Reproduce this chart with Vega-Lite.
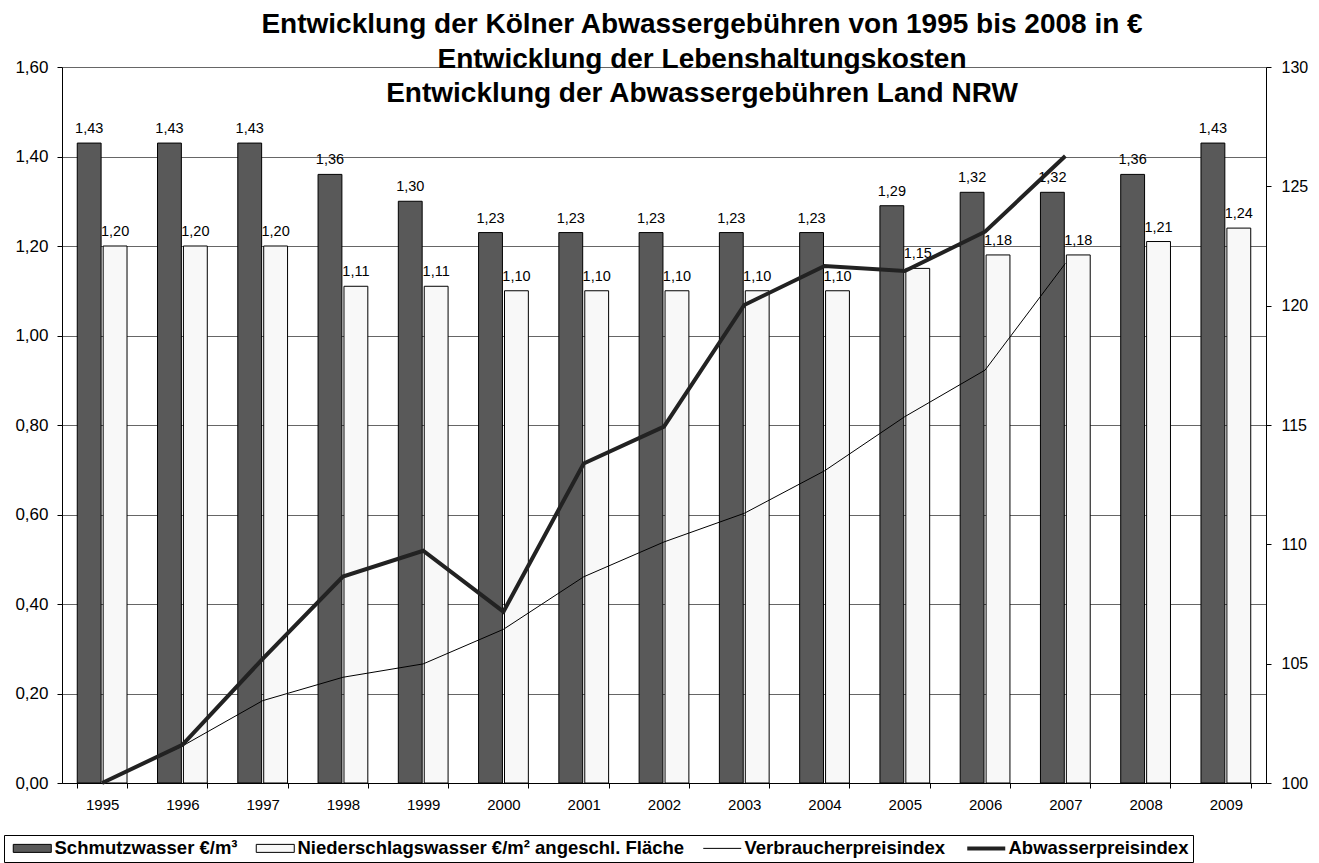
{
  "$schema": "https://vega.github.io/schema/vega-lite/v6.json",
  "autosize": {"type": "none"},
  "width": 1204,
  "height": 716,
  "padding": {"left": 62, "top": 67, "right": 53, "bottom": 80},
  "background": "white",
  "config": {
    "locale": {"number": {"decimal": ",", "thousands": ".", "grouping": [3], "currency": ["", " €"]}},
    "font": "Liberation Sans",
    "view": {"stroke": null},
    "axis": {"labelFont": "Liberation Sans", "labelColor": "#000", "domainColor": "#000", "tickColor": "#000", "tickSize": 5, "title": null},
    "legend": {
      "title": null, "orient": "none", "legendX": -58, "legendY": 768, "direction": "horizontal", "columns": 4,
      "strokeColor": "#000", "fillColor": "#fff", "padding": 4,
      "labelFont": "Liberation Sans", "labelFontWeight": "bold", "labelFontSize": 18.5, "labelColor": "#000", "labelLimit": 1000,
      "symbolSize": 64, "labelOffset": 28, "columnPadding": 13
    }
  },
  "title": {
    "text": ["Entwicklung der Kölner Abwassergebühren von 1995 bis 2008 in €", "Entwicklung der Lebenshaltungskosten", "Entwicklung der Abwassergebühren Land NRW"],
    "font": "Liberation Sans", "fontSize": 28, "fontWeight": "bold", "color": "#000",
    "anchor": "middle", "frame": "group", "dx": 38, "offset": -78, "lineHeight": 34.5, "baseline": "bottom"
  },
  "datasets": {
    "bars": [
      {"year": "1995", "series": "Schmutzwasser €/m³", "value": 1.43},
      {"year": "1996", "series": "Schmutzwasser €/m³", "value": 1.43},
      {"year": "1997", "series": "Schmutzwasser €/m³", "value": 1.43},
      {"year": "1998", "series": "Schmutzwasser €/m³", "value": 1.36},
      {"year": "1999", "series": "Schmutzwasser €/m³", "value": 1.30},
      {"year": "2000", "series": "Schmutzwasser €/m³", "value": 1.23},
      {"year": "2001", "series": "Schmutzwasser €/m³", "value": 1.23},
      {"year": "2002", "series": "Schmutzwasser €/m³", "value": 1.23},
      {"year": "2003", "series": "Schmutzwasser €/m³", "value": 1.23},
      {"year": "2004", "series": "Schmutzwasser €/m³", "value": 1.23},
      {"year": "2005", "series": "Schmutzwasser €/m³", "value": 1.29},
      {"year": "2006", "series": "Schmutzwasser €/m³", "value": 1.32},
      {"year": "2007", "series": "Schmutzwasser €/m³", "value": 1.32},
      {"year": "2008", "series": "Schmutzwasser €/m³", "value": 1.36},
      {"year": "2009", "series": "Schmutzwasser €/m³", "value": 1.43},
      {"year": "1995", "series": "Niederschlagswasser €/m² angeschl. Fläche", "value": 1.20},
      {"year": "1996", "series": "Niederschlagswasser €/m² angeschl. Fläche", "value": 1.20},
      {"year": "1997", "series": "Niederschlagswasser €/m² angeschl. Fläche", "value": 1.20},
      {"year": "1998", "series": "Niederschlagswasser €/m² angeschl. Fläche", "value": 1.11},
      {"year": "1999", "series": "Niederschlagswasser €/m² angeschl. Fläche", "value": 1.11},
      {"year": "2000", "series": "Niederschlagswasser €/m² angeschl. Fläche", "value": 1.10},
      {"year": "2001", "series": "Niederschlagswasser €/m² angeschl. Fläche", "value": 1.10},
      {"year": "2002", "series": "Niederschlagswasser €/m² angeschl. Fläche", "value": 1.10},
      {"year": "2003", "series": "Niederschlagswasser €/m² angeschl. Fläche", "value": 1.10},
      {"year": "2004", "series": "Niederschlagswasser €/m² angeschl. Fläche", "value": 1.10},
      {"year": "2005", "series": "Niederschlagswasser €/m² angeschl. Fläche", "value": 1.15},
      {"year": "2006", "series": "Niederschlagswasser €/m² angeschl. Fläche", "value": 1.18},
      {"year": "2007", "series": "Niederschlagswasser €/m² angeschl. Fläche", "value": 1.18},
      {"year": "2008", "series": "Niederschlagswasser €/m² angeschl. Fläche", "value": 1.21},
      {"year": "2009", "series": "Niederschlagswasser €/m² angeschl. Fläche", "value": 1.24}
    ],
    "lines": [
      {"year": "1995", "series": "Verbraucherpreisindex", "index": 100},
      {"year": "1996", "series": "Verbraucherpreisindex", "index": 101.55},
      {"year": "1997", "series": "Verbraucherpreisindex", "index": 103.45},
      {"year": "1998", "series": "Verbraucherpreisindex", "index": 104.43},
      {"year": "1999", "series": "Verbraucherpreisindex", "index": 104.99},
      {"year": "2000", "series": "Verbraucherpreisindex", "index": 106.44},
      {"year": "2001", "series": "Verbraucherpreisindex", "index": 108.64},
      {"year": "2002", "series": "Verbraucherpreisindex", "index": 110.1},
      {"year": "2003", "series": "Verbraucherpreisindex", "index": 111.3},
      {"year": "2004", "series": "Verbraucherpreisindex", "index": 113.08},
      {"year": "2005", "series": "Verbraucherpreisindex", "index": 115.35},
      {"year": "2006", "series": "Verbraucherpreisindex", "index": 117.3},
      {"year": "2007", "series": "Verbraucherpreisindex", "index": 121.77},
      {"year": "1995", "series": "Abwasserpreisindex", "index": 100},
      {"year": "1996", "series": "Abwasserpreisindex", "index": 101.6},
      {"year": "1997", "series": "Abwasserpreisindex", "index": 105.2},
      {"year": "1998", "series": "Abwasserpreisindex", "index": 108.65},
      {"year": "1999", "series": "Abwasserpreisindex", "index": 109.73},
      {"year": "2000", "series": "Abwasserpreisindex", "index": 107.18},
      {"year": "2001", "series": "Abwasserpreisindex", "index": 113.39},
      {"year": "2002", "series": "Abwasserpreisindex", "index": 114.93},
      {"year": "2003", "series": "Abwasserpreisindex", "index": 120.03},
      {"year": "2004", "series": "Abwasserpreisindex", "index": 121.66},
      {"year": "2005", "series": "Abwasserpreisindex", "index": 121.45},
      {"year": "2006", "series": "Abwasserpreisindex", "index": 123.1},
      {"year": "2007", "series": "Abwasserpreisindex", "index": 126.27}
    ]
  },
  "layer": [
    {
      "data": {"name": "bars"},
      "encoding": {
        "x": {"field": "year", "type": "nominal", "scale": {"paddingInner": 0.38, "paddingOuter": 0.19},
              "axis": {"labelAngle": 0, "labelFontSize": 15, "labelPadding": 9, "tickBand": "extent", "grid": false}},
        "xOffset": {"field": "series", "type": "nominal", "scale": {"domain": ["Schmutzwasser €/m³", "Niederschlagswasser €/m² angeschl. Fläche"], "paddingInner": 0.08}},
        "y": {"field": "value", "type": "quantitative", "scale": {"domain": [0, 1.6], "nice": false},
              "axis": {"orient": "left", "values": [0, 0.2, 0.4, 0.6, 0.8, 1.0, 1.2, 1.4, 1.6], "labelExpr": "replace(format(datum.value, '.2f'), '.', ',')", "labelFontSize": 17, "labelPadding": 9, "grid": true, "gridColor": "#666", "gridWidth": 1, "gridOpacity": 1}}
      },
      "layer": [
        {
          "mark": {"type": "bar", "stroke": "#000", "strokeWidth": 1},
          "encoding": {
            "fill": {"field": "series", "type": "nominal",
              "scale": {"domain": ["Schmutzwasser €/m³", "Niederschlagswasser €/m² angeschl. Fläche", "Verbraucherpreisindex", "Abwasserpreisindex"], "range": ["#595959", "#f8f8f8", "transparent", "transparent"]},
              "legend": {
                "encode": {"symbols": {"update": {
                  "shape": {"signal": "(datum.value === 'Verbraucherpreisindex' || datum.value === 'Abwasserpreisindex') ? 'M-1,0H8.5' : 'M-1,-1H8.5V1H-1Z'"},
                  "strokeWidth": {"signal": "datum.value === 'Abwasserpreisindex' ? 4 : 1"},
                  "opacity": {"value": 1}
                }}}
              }}
          }
        },
        {
          "mark": {"type": "text", "dy": -10, "baseline": "alphabetic", "fontSize": 14.5, "fill": "#000", "font": "Liberation Sans"},
          "encoding": {"text": {"field": "value", "type": "quantitative", "format": ".2f"}}
        }
      ]
    },
    {
      "data": {"name": "lines"},
      "encoding": {
        "x": {"field": "year", "type": "nominal"},
        "y": {"field": "index", "type": "quantitative", "scale": {"domain": [100, 130], "nice": false, "zero": false},
              "axis": {"orient": "right", "values": [100, 105, 110, 115, 120, 125, 130], "labelFontSize": 16, "labelPadding": 10, "grid": false}},
        "stroke": {"field": "series", "type": "nominal",
          "scale": {"domain": ["Schmutzwasser €/m³", "Niederschlagswasser €/m² angeschl. Fläche", "Verbraucherpreisindex", "Abwasserpreisindex"], "range": ["#000000", "#000000", "#000000", "#222222"]},
          "legend": {
            "encode": {"symbols": {"update": {
              "shape": {"signal": "(datum.value === 'Verbraucherpreisindex' || datum.value === 'Abwasserpreisindex') ? 'M-1,0H8.5' : 'M-1,-1H8.5V1H-1Z'"},
              "strokeWidth": {"signal": "datum.value === 'Abwasserpreisindex' ? 4 : 1"},
              "opacity": {"value": 1}
            }}}
          }}
      },
      "layer": [
        {"transform": [{"filter": "datum.series === 'Verbraucherpreisindex'"}], "mark": {"type": "line", "strokeWidth": 1}},
        {"transform": [{"filter": "datum.series === 'Abwasserpreisindex'"}], "mark": {"type": "line", "strokeWidth": 4}}
      ]
    }
  ],
  "resolve": {"scale": {"y": "independent"}}
}
